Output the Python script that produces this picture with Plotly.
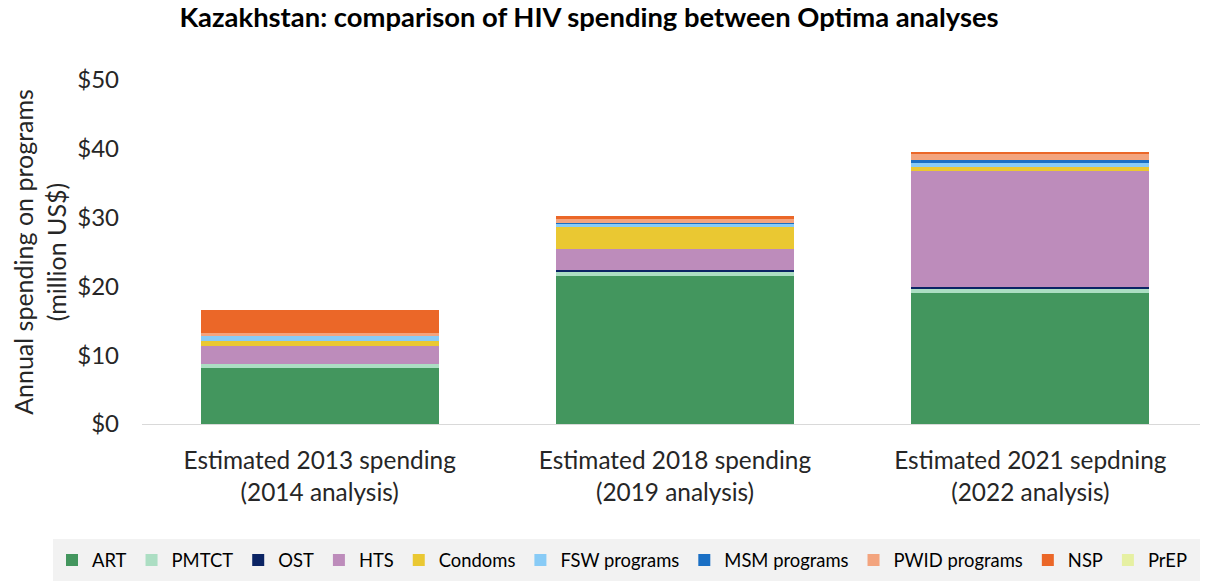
import plotly.graph_objects as go

categories = ["Estimated 2013 spending<br>(2014 analysis)",
              "Estimated 2018 spending<br>(2019 analysis)",
              "Estimated 2021 sepdning<br>(2022 analysis)"]

programs = ["ART", "PMTCT", "OST", "HTS", "Condoms", "FSW programs",
            "MSM programs", "PWID programs", "NSP", "PrEP"]

art = [8.14, 21.56, 19.04]
pmtct = [0.58, 0.58, 0.58]
ost = [0.0, 0.19, 0.34]
hts = [2.66, 3.15, 16.76]
condoms = [0.68, 3.15, 0.63]
fsw = [0.77, 0.48, 0.58]
msm = [0.0, 0.10, 0.48]
pwid = [0.40, 0.63, 0.87]
nsp = [3.30, 0.39, 0.29]
prep = [0.0, 0.0, 0.0]

values = [art, pmtct, ost, hts, condoms, fsw, msm, pwid, nsp, prep]
colors = ["#43965e", "#acdec3", "#0b2464", "#bd8cbb", "#eac832", "#88cbf6",
          "#1a6fc4", "#f3a47e", "#eb6728", "#e6f0a2"]

FONT = "Lato"
W, H = 1200, 573          # page body has an 8px margin
L, T, B = 134, 72, 157
PW, PH = W - L, H - T - B

fig = go.Figure()
for name, vals, col in zip(programs, values, colors):
    fig.add_trace(go.Bar(x=categories, y=vals, name=name,
                         marker=dict(color=col, line=dict(width=0))))

# grey legend background band
fig.add_shape(type="rect", xref="paper", yref="paper",
              x0=(45 - L) / PW, x1=1.0, y0=(PH - (H - T)) / PH, y1=(PH - (531 - T)) / PH,
              fillcolor="#f2f2f2", line=dict(width=0), layer="below")

fig.update_layout(
    barmode="stack",
    bargap=0.33,
    width=W, height=H,
    margin=dict(l=L, r=0, t=T, b=B, autoexpand=False),
    paper_bgcolor="white", plot_bgcolor="white",
    font=dict(family=FONT, size=24, color="#262626"),
    title=dict(text="<b>Kazakhstan: comparison of HIV spending between Optima analyses</b>",
               xref="container", yref="container",
               x=(589 - 8) / W, xanchor="center", y=1.0, yanchor="top",
               pad=dict(t=0, b=0, l=0, r=0),
               font=dict(family=FONT, size=27.4, color="#000000")),
    yaxis=dict(range=[0, 50], dtick=10, tickprefix="$", showgrid=False,
               zeroline=False, showline=False, ticks="", automargin=False,
               ticklabelstandoff=22,
               title=dict(text="Annual spending on programs<br>(million US$)",
                          font=dict(size=25), standoff=6),
               tickfont=dict(size=24)),
    xaxis=dict(showline=True, linecolor="#d9d9d9", linewidth=1, ticks="",
               automargin=False, ticklabelstandoff=15,
               tickfont=dict(size=24.4)),
    legend=dict(orientation="h", xref="paper", yref="paper",
                x=(44 - L) / PW, xanchor="left", y=(PH - (552 - T)) / PH, yanchor="middle",
                bgcolor="rgba(0,0,0,0)", font=dict(size=18.4, color="#000000"),
                traceorder="normal", tracegroupgap=0),
)

fig.write_html("out.html")
